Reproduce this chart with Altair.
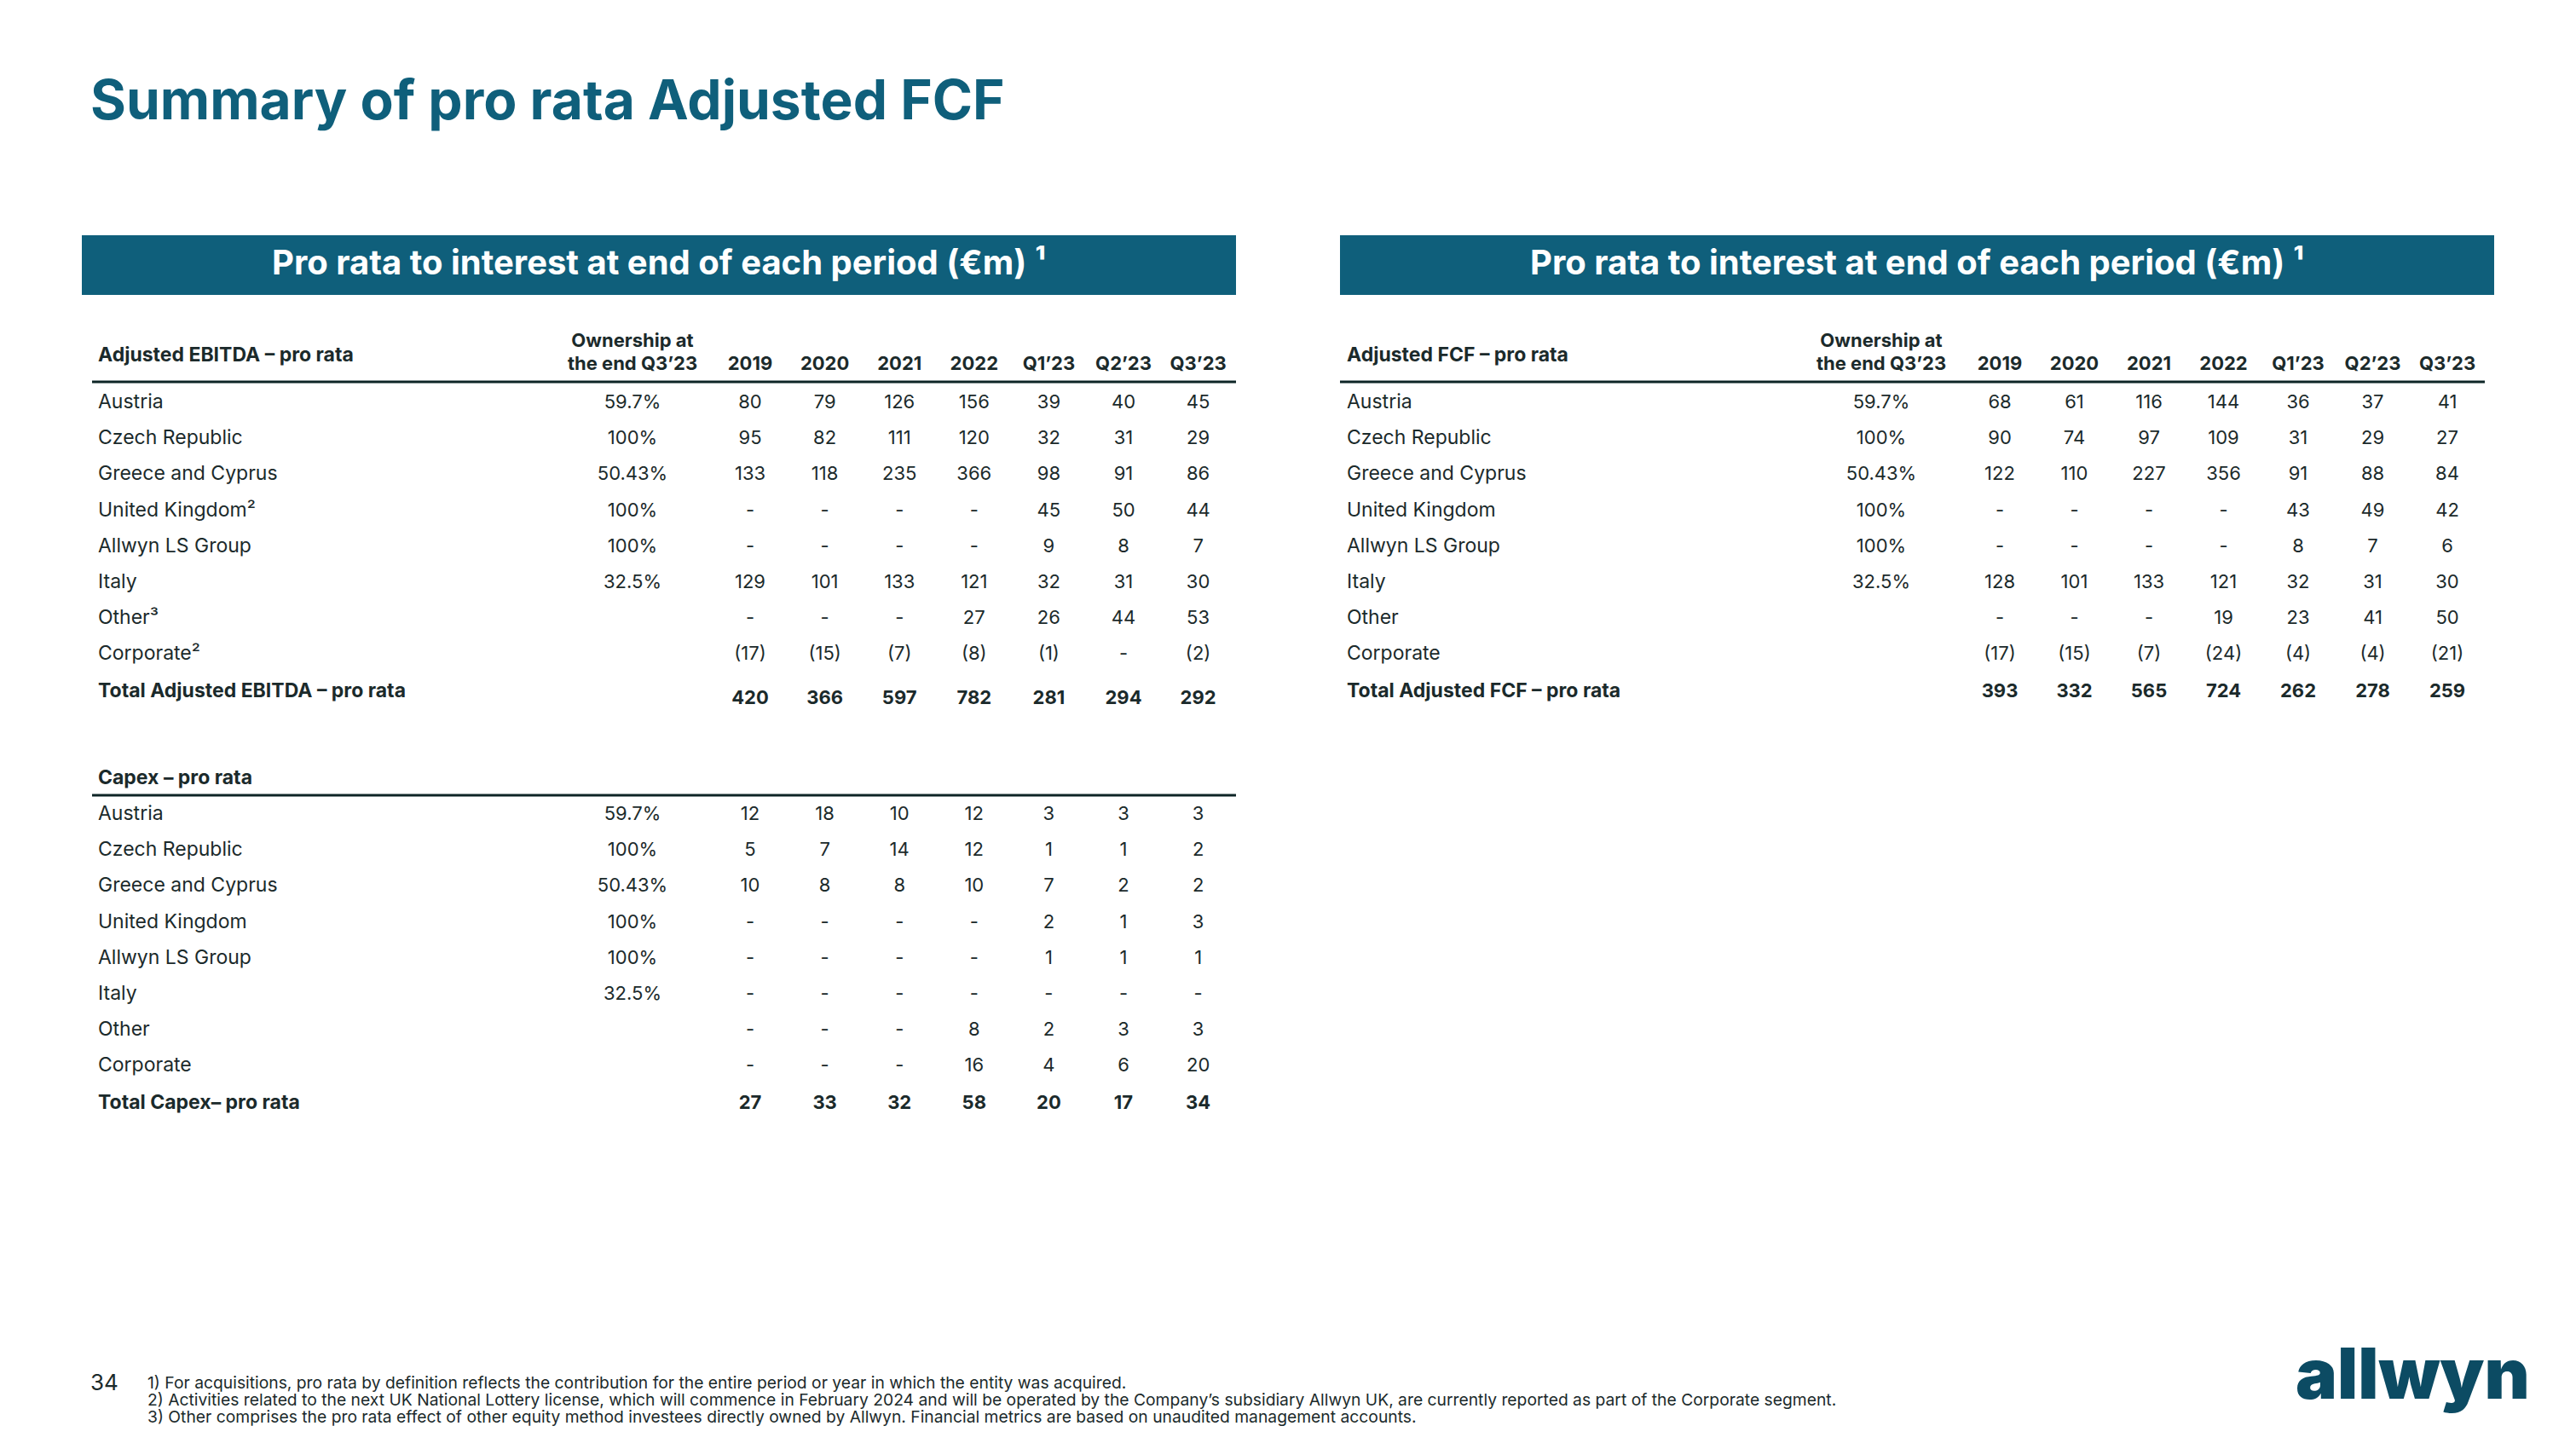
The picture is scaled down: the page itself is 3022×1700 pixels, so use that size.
import altair as alt
import pandas as pd

# ---------------- data ----------------
PERIODS = ["2019", "2020", "2021", "2022", "Q1’23", "Q2’23", "Q3’23"]
OWNERSHIP = ["59.7%", "100%", "50.43%", "100%", "100%", "32.5%", "", ""]
N = None

EBITDA_LABELS = ["Austria", "Czech Republic", "Greece and Cyprus", "United Kingdom²",
                 "Allwyn LS Group", "Italy", "Other³", "Corporate²"]
EBITDA_AUSTRIA = [80, 79, 126, 156, 39, 40, 45]
EBITDA_CZECH = [95, 82, 111, 120, 32, 31, 29]
EBITDA_GREECE = [133, 118, 235, 366, 98, 91, 86]
EBITDA_UK = [N, N, N, N, 45, 50, 44]
EBITDA_ALLWYN_LS = [N, N, N, N, 9, 8, 7]
EBITDA_ITALY = [129, 101, 133, 121, 32, 31, 30]
EBITDA_OTHER = [N, N, N, 27, 26, 44, 53]
EBITDA_CORPORATE = [-17, -15, -7, -8, -1, N, -2]
EBITDA_TOTAL = [420, 366, 597, 782, 281, 294, 292]

CAPEX_LABELS = ["Austria", "Czech Republic", "Greece and Cyprus", "United Kingdom",
                "Allwyn LS Group", "Italy", "Other", "Corporate"]
CAPEX_AUSTRIA = [12, 18, 10, 12, 3, 3, 3]
CAPEX_CZECH = [5, 7, 14, 12, 1, 1, 2]
CAPEX_GREECE = [10, 8, 8, 10, 7, 2, 2]
CAPEX_UK = [N, N, N, N, 2, 1, 3]
CAPEX_ALLWYN_LS = [N, N, N, N, 1, 1, 1]
CAPEX_ITALY = [N, N, N, N, N, N, N]
CAPEX_OTHER = [N, N, N, 8, 2, 3, 3]
CAPEX_CORPORATE = [N, N, N, 16, 4, 6, 20]
CAPEX_TOTAL = [27, 33, 32, 58, 20, 17, 34]

FCF_LABELS = ["Austria", "Czech Republic", "Greece and Cyprus", "United Kingdom",
              "Allwyn LS Group", "Italy", "Other", "Corporate"]
FCF_AUSTRIA = [68, 61, 116, 144, 36, 37, 41]
FCF_CZECH = [90, 74, 97, 109, 31, 29, 27]
FCF_GREECE = [122, 110, 227, 356, 91, 88, 84]
FCF_UK = [N, N, N, N, 43, 49, 42]
FCF_ALLWYN_LS = [N, N, N, N, 8, 7, 6]
FCF_ITALY = [128, 101, 133, 121, 32, 31, 30]
FCF_OTHER = [N, N, N, 19, 23, 41, 50]
FCF_CORPORATE = [-17, -15, -7, -24, -4, -4, -21]
FCF_TOTAL = [393, 332, 565, 724, 262, 278, 259]

TITLE = "Summary of pro rata Adjusted FCF"
BAND_TITLE = "Pro rata to interest at end of each period (€m) ¹"
FOOTNOTES = [
    "1) For acquisitions, pro rata by definition reflects the contribution for the entire period or year in which the entity was acquired.",
    "2) Activities related to the next UK National Lottery license, which will commence in February 2024 and will  be operated by the Company’s subsidiary Allwyn UK, are currently reported as part of the Corporate segment.",
    "3) Other comprises the pro rata effect of other equity method investees directly owned by Allwyn. Financial metrics are based on unaudited management accounts.",
]
PAGE = "34"
LOGO = "allwyn"

# ---------------- styling / layout ----------------
TEAL = "#0f5f7b"
DARK = "#1b2a2b"
LINE = "#0d2526"
LOGO_C = "#0c4b63"
FONT = "Inter"

W, H = 3006, 1684
ROW_DY = 42.2


def fmt(v):
    if v is None:
        return "-"
    if v < 0:
        return f"({-v})"
    return str(v)


texts = []
rects = []
rules = []


def add(x, y, t, g):
    texts.append(dict(x=x, y=y, t=t, g=g))


def table(label_x, own_x, col_x0, col_dx, line_x, header, labels, rows, total_label,
          total, hdr_y, line_y, row_y0, total_y_label, total_y_vals, show_cols=True):
    add(label_x, hdr_y, header, "hdr_l")
    if show_cols:
        add(own_x, hdr_y - 17, "Ownership at", "hdr_c")
        add(own_x, hdr_y + 10, "the end Q3’23", "hdr_c")
        for j, p in enumerate(PERIODS):
            add(col_x0 + j * col_dx, hdr_y + 10, p, "hdr_c")
    rules.append(dict(x=line_x[0], x2=line_x[1], y=line_y))
    for i, (lab, vals) in enumerate(zip(labels, rows)):
        y = row_y0 + i * ROW_DY
        add(label_x, y, lab, "body_l")
        if OWNERSHIP[i]:
            add(own_x, y, OWNERSHIP[i], "body_c")
        for j, v in enumerate(vals):
            add(col_x0 + j * col_dx, y, fmt(v), "body_c")
    add(label_x, total_y_label, total_label, "hdr_l")
    for j, v in enumerate(total):
        add(col_x0 + j * col_dx, total_y_vals, fmt(v), "hdr_c")


# title
add(106, 121, TITLE, "title")
# bands
rects.append(dict(x=96, x2=1450, y=276, y2=346))
rects.append(dict(x=1572, x2=2926, y=276, y2=346))
add((96 + 1450) / 2, 310, BAND_TITLE, "band")
add((1572 + 2926) / 2, 310, BAND_TITLE, "band")

# left: EBITDA
table(115, 742, 880, 87.6, (108, 1450), "Adjusted EBITDA – pro rata", EBITDA_LABELS,
      [EBITDA_AUSTRIA, EBITDA_CZECH, EBITDA_GREECE, EBITDA_UK, EBITDA_ALLWYN_LS,
       EBITDA_ITALY, EBITDA_OTHER, EBITDA_CORPORATE],
      "Total Adjusted EBITDA – pro rata", EBITDA_TOTAL, 417, 448, 472, 811, 819)
# left: Capex
table(115, 742, 880, 87.6, (108, 1450), "Capex – pro rata", CAPEX_LABELS,
      [CAPEX_AUSTRIA, CAPEX_CZECH, CAPEX_GREECE, CAPEX_UK, CAPEX_ALLWYN_LS,
       CAPEX_ITALY, CAPEX_OTHER, CAPEX_CORPORATE],
      "Total Capex– pro rata", CAPEX_TOTAL, 913, 933, 955, 1294, 1294, show_cols=False)
# right: FCF
table(1580, 2207, 2346, 87.5, (1572, 2915), "Adjusted FCF – pro rata", FCF_LABELS,
      [FCF_AUSTRIA, FCF_CZECH, FCF_GREECE, FCF_UK, FCF_ALLWYN_LS,
       FCF_ITALY, FCF_OTHER, FCF_CORPORATE],
      "Total Adjusted FCF – pro rata", FCF_TOTAL, 417, 448, 472, 811, 811)

# footer
add(106, 1623, PAGE, "page")
for k, line in enumerate(FOOTNOTES):
    add(173, 1623 + 20 * k, line, "foot")
add(2693, 1641, LOGO, "logo")

tdf = pd.DataFrame(texts)
rdf = pd.DataFrame(rects)
ldf = pd.DataFrame(rules)

xs = alt.Scale(domain=[8, 8 + W], nice=False, zero=False)
ys = alt.Scale(domain=[8, 8 + H], nice=False, zero=False, reverse=True)
X = alt.X("x:Q", scale=xs, axis=None)
Y = alt.Y("y:Q", scale=ys, axis=None)

STYLES = {
    "title": dict(font=FONT, fontSize=64, fontWeight="bold", color=TEAL, align="left", baseline="middle"),
    "band": dict(font=FONT, fontSize=40, fontWeight="bold", color="white", align="center", baseline="middle"),
    "hdr_l": dict(font=FONT, fontSize=23, fontWeight="bold", color=DARK, align="left", baseline="middle"),
    "hdr_c": dict(font=FONT, fontSize=22, fontWeight="bold", color=DARK, align="center", baseline="middle"),
    "body_l": dict(font=FONT, fontSize=23, fontWeight="normal", color=DARK, align="left", baseline="middle"),
    "body_c": dict(font=FONT, fontSize=22, fontWeight="normal", color=DARK, align="center", baseline="middle"),
    "foot": dict(font=FONT, fontSize=19.3, fontWeight="normal", color=DARK, align="left", baseline="middle"),
    "page": dict(font=FONT, fontSize=26, fontWeight="normal", color=DARK, align="left", baseline="middle"),
    "logo": dict(font=FONT, fontSize=82, fontWeight=900, color=LOGO_C, align="left", baseline="alphabetic"),
}

layers = [
    alt.Chart(rdf).mark_rect(color=TEAL).encode(x=X, x2="x2:Q", y=Y, y2="y2:Q"),
    alt.Chart(ldf).mark_rule(color=LINE, strokeWidth=3).encode(x=X, x2="x2:Q", y=Y),
]
for g, st in STYLES.items():
    sub = tdf[tdf.g == g]
    layers.append(alt.Chart(sub).mark_text(**st).encode(x=X, y=Y, text="t:N"))

chart = alt.layer(*layers).properties(
    width=W, height=H, padding=0, autosize="none", background="white"
).configure_view(stroke=None)

chart.save("out.html", embed_options={"renderer": "svg", "actions": False})
